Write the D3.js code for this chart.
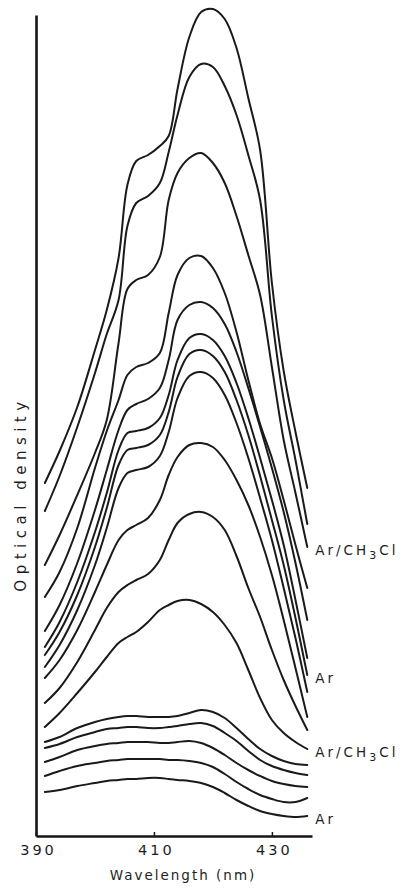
<!DOCTYPE html>
<html>
<head>
<meta charset="utf-8">
<script src="https://cdn.jsdelivr.net/npm/d3@7"></script>
<style>
  body { margin: 0; background: #fff; }
  svg text { font-family: "DejaVu Sans", sans-serif; fill: #1e1e1e; }
</style>
</head>
<body>
<svg id="chart" width="406" height="891"></svg>
<script>
// wavelength (nm) at which each trace was read
const wavelengths = [391.5, 394, 397, 400, 402, 404, 405.5, 407, 409, 411, 412.5, 414,
                     416, 418, 420, 422, 424, 426, 428, 430, 432, 434, 436];

// optical density (arbitrary offset), top trace first
const trace01 = [0.706, 0.770, 0.858, 0.972, 1.052, 1.156, 1.302, 1.350, 1.362, 1.380, 1.400, 1.494,
                 1.598, 1.648, 1.654, 1.634, 1.576, 1.476, 1.372, 1.106, 0.930, 0.808, 0.696];
const trace02 = [0.650, 0.720, 0.818, 0.926, 1.004, 1.072, 1.220, 1.266, 1.280, 1.306, 1.368, 1.442,
                 1.518, 1.544, 1.538, 1.500, 1.442, 1.362, 1.272, 1.040, 0.872, 0.752, 0.624];
const trace03 = [0.542, 0.602, 0.682, 0.766, 0.832, 0.986, 1.094, 1.112, 1.122, 1.158, 1.272, 1.326,
                 1.356, 1.366, 1.346, 1.306, 1.240, 1.162, 1.082, 0.938, 0.792, 0.686, 0.578];
const trace04 = [0.478, 0.528, 0.616, 0.736, 0.810, 0.872, 0.922, 0.938, 0.946, 0.966, 1.046, 1.122,
                 1.156, 1.160, 1.136, 1.086, 1.008, 0.912, 0.824, 0.756, 0.672, 0.582, 0.496];
const trace05 = [0.410, 0.462, 0.546, 0.652, 0.732, 0.812, 0.852, 0.864, 0.874, 0.896, 0.952, 1.032,
                 1.062, 1.068, 1.056, 1.024, 0.968, 0.896, 0.818, 0.736, 0.648, 0.546, 0.432];
const trace06 = [0.378, 0.428, 0.508, 0.608, 0.686, 0.772, 0.806, 0.810, 0.816, 0.836, 0.882, 0.952,
                 0.996, 1.004, 0.992, 0.960, 0.906, 0.836, 0.756, 0.672, 0.582, 0.472, 0.356];
const trace07 = [0.362, 0.408, 0.482, 0.578, 0.656, 0.742, 0.772, 0.776, 0.782, 0.802, 0.848, 0.918,
                 0.964, 0.972, 0.960, 0.928, 0.872, 0.802, 0.720, 0.632, 0.542, 0.436, 0.322];
const trace08 = [0.338, 0.382, 0.452, 0.542, 0.616, 0.696, 0.726, 0.732, 0.738, 0.760, 0.808, 0.876,
                 0.920, 0.928, 0.916, 0.882, 0.826, 0.756, 0.676, 0.592, 0.496, 0.396, 0.288];
const trace09 = [0.316, 0.352, 0.412, 0.488, 0.542, 0.592, 0.612, 0.622, 0.636, 0.672, 0.722, 0.758,
                 0.782, 0.786, 0.778, 0.752, 0.712, 0.662, 0.598, 0.522, 0.432, 0.336, 0.238];
const trace10 = [0.266, 0.296, 0.348, 0.412, 0.456, 0.488, 0.502, 0.512, 0.524, 0.552, 0.592, 0.626,
                 0.644, 0.648, 0.638, 0.612, 0.560, 0.496, 0.438, 0.372, 0.312, 0.260, 0.212];
const trace11 = [0.218, 0.246, 0.286, 0.328, 0.358, 0.386, 0.398, 0.408, 0.428, 0.452, 0.462, 0.470,
                 0.472, 0.464, 0.448, 0.422, 0.386, 0.332, 0.276, 0.232, 0.206, 0.188, 0.174];
const trace12 = [0.188, 0.198, 0.216, 0.228, 0.234, 0.238, 0.240, 0.240, 0.238, 0.238, 0.238, 0.240,
                 0.246, 0.252, 0.248, 0.236, 0.216, 0.194, 0.174, 0.160, 0.150, 0.144, 0.142];
const trace13 = [0.176, 0.184, 0.198, 0.208, 0.214, 0.216, 0.218, 0.218, 0.216, 0.216, 0.218, 0.220,
                 0.224, 0.226, 0.220, 0.206, 0.190, 0.170, 0.152, 0.140, 0.132, 0.126, 0.122];
const trace14 = [0.148, 0.158, 0.172, 0.180, 0.184, 0.186, 0.188, 0.188, 0.188, 0.186, 0.186, 0.188,
                 0.190, 0.186, 0.176, 0.162, 0.146, 0.132, 0.120, 0.110, 0.104, 0.100, 0.098];
const trace15 = [0.120, 0.130, 0.140, 0.146, 0.150, 0.152, 0.154, 0.154, 0.154, 0.154, 0.152, 0.152,
                 0.150, 0.146, 0.138, 0.124, 0.108, 0.094, 0.082, 0.074, 0.068, 0.068, 0.076];
const trace16 = [0.088, 0.092, 0.100, 0.106, 0.110, 0.112, 0.114, 0.114, 0.116, 0.116, 0.114, 0.112,
                 0.110, 0.106, 0.098, 0.086, 0.072, 0.060, 0.050, 0.044, 0.040, 0.038, 0.040];

const traces = [trace01, trace02, trace03, trace04, trace05, trace06, trace07, trace08,
                trace09, trace10, trace11, trace12, trace13, trace14, trace15, trace16];

const xTicks = [390, 410, 430];

// matrix labels at the right-hand end of some traces
const labelText = ["Ar/CH3Cl", "Ar", "Ar/CH3Cl", "Ar"];
const labelTrace = [2, 6, 10, 15];

const svg = d3.select("#chart");

const x = d3.scaleLinear().domain([390, 436.8]).range([36, 312]);
const y = d3.scaleLinear().domain([0, 1.642]).range([836, 15]);

const line = d3.line()
  .x((d, i) => x(wavelengths[i]))
  .y(d => y(d))
  .curve(d3.curveCatmullRom.alpha(0.5));

svg.append("g")
  .attr("fill", "none")
  .attr("stroke", "#1a1a1a")
  .attr("stroke-width", 2)
  .attr("stroke-linejoin", "round")
  .attr("stroke-linecap", "round")
  .selectAll("path")
  .data(traces)
  .join("path")
  .attr("d", line);

// axes
const xAxis = svg.append("g")
  .attr("transform", `translate(0,${y(0)})`)
  .call(d3.axisBottom(x).tickValues(xTicks).tickSize(-4).tickSizeOuter(0).tickPadding(9));
xAxis.select(".domain").attr("stroke", "#151515").attr("stroke-width", 2.6);
xAxis.selectAll(".tick line").attr("stroke", "#151515").attr("stroke-width", 1.5);
xAxis.selectAll(".tick text")
  .attr("font-size", 14.5)
  .attr("letter-spacing", 3)
  .attr("dx", 2)
  .attr("fill", "#1e1e1e")
  .style("font-family", "'DejaVu Sans', sans-serif");

const yAxis = svg.append("g")
  .attr("transform", `translate(${x(390)},0)`)
  .call(d3.axisLeft(y).tickValues([]).tickSizeOuter(0));
yAxis.select(".domain").attr("stroke", "#151515").attr("stroke-width", 2.6);

svg.append("text")
  .attr("x", 183)
  .attr("y", 880)
  .attr("text-anchor", "middle")
  .attr("font-size", 13.5)
  .attr("letter-spacing", 2)
  .text("Wavelength (nm)");

svg.append("text")
  .attr("transform", "translate(26,494) rotate(-90)")
  .attr("text-anchor", "middle")
  .attr("font-size", 15)
  .attr("letter-spacing", 5.5)
  .text("Optical density");

// trace labels
labelText.forEach((t, k) => {
  const vals = traces[labelTrace[k]];
  const lab = svg.append("text")
    .attr("x", x(wavelengths[wavelengths.length - 1]) + 8)
    .attr("y", y(vals[vals.length - 1]) + 8)
    .attr("font-size", 13.5)
    .attr("letter-spacing", 3);
  const parts = t.split("3");
  lab.append("tspan").text(parts[0]);
  if (parts.length > 1) {
    lab.append("tspan").attr("dy", 4).attr("font-size", 11).text("3");
    lab.append("tspan").attr("dy", -4).text(parts[1]);
  }
});
</script>
</body>
</html>
